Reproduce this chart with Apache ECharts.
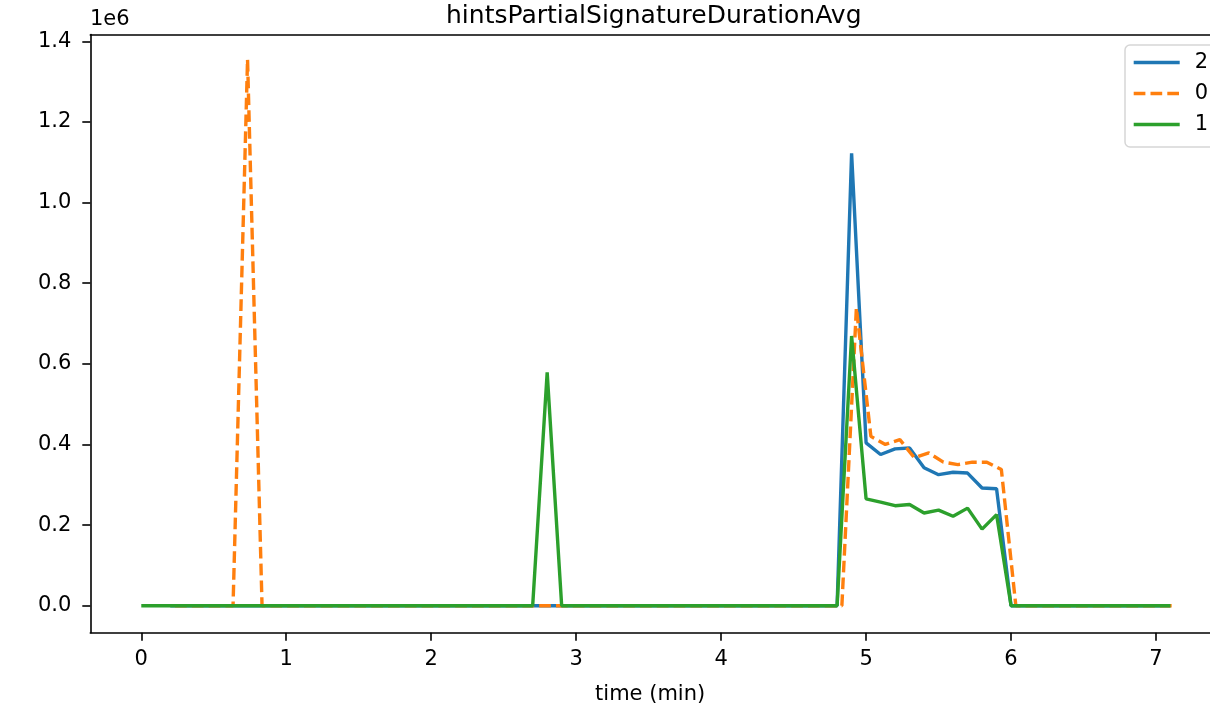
<!DOCTYPE html>
<html>
<head>
<meta charset="utf-8">
<script src="https://cdn.jsdelivr.net/npm/echarts@6/dist/echarts.min.js"></script>
<style>
html,body{margin:0;padding:0;background:#fff;}
#c{width:1210px;height:703px;}
</style>
</head>
<body>
<div id="c"></div>
<script>
// ---- data (time in minutes, value in raw units) ----
const times2 = [0.2,0.3,0.4,0.5,0.6,0.7,0.8,0.9,1.0,1.1,1.2,1.3,1.4,1.5,1.6,1.7,1.8,1.9,2.0,2.1,2.2,2.3,2.4,2.5,2.6,2.7,2.8,2.9,3.0,3.1,3.2,3.3,3.4,3.5,3.6,3.7,3.8,3.9,4.0,4.1,4.2,4.3,4.4,4.5,4.6,4.7,4.8,4.9,5.0,5.1,5.2,5.3,5.4,5.5,5.6,5.7,5.8,5.9,6.0,6.1,6.2,6.3,6.4,6.5,6.6,6.7,6.8,6.9,7.0,7.1];
const values2 = [0,0,0,0,0,0,0,0,0,0,0,0,0,0,0,0,0,0,0,0,0,0,0,0,0,0,0,0,0,0,0,0,0,0,0,0,0,0,0,0,0,0,0,0,0,0,0,1122000,404000,375000,389000,391000,342000,325000,331000,329000,292000,290000,0,0,0,0,0,0,0,0,0,0,0,0];

const times0 = [0.233,0.333,0.433,0.533,0.633,0.733,0.833,0.933,1.033,1.133,1.233,1.333,1.433,1.533,1.633,1.733,1.833,1.933,2.033,2.133,2.233,2.333,2.433,2.533,2.633,2.733,2.833,2.933,3.033,3.133,3.233,3.333,3.433,3.533,3.633,3.733,3.833,3.933,4.033,4.133,4.233,4.333,4.433,4.533,4.633,4.733,4.833,4.933,5.033,5.133,5.233,5.333,5.433,5.533,5.633,5.733,5.833,5.933,6.033,6.133,6.233,6.333,6.433,6.533,6.633,6.733,6.833,6.933,7.033,7.133];
const values0 = [0,0,0,0,0,1355000,0,0,0,0,0,0,0,0,0,0,0,0,0,0,0,0,0,0,0,0,0,0,0,0,0,0,0,0,0,0,0,0,0,0,0,0,0,0,0,0,0,739000,420000,400000,412000,367000,379000,356000,350000,356000,356000,338000,0,0,0,0,0,0,0,0,0,0,0,0];

const times1 = [0.0,0.1,0.2,0.3,0.4,0.5,0.6,0.7,0.8,0.9,1.0,1.1,1.2,1.3,1.4,1.5,1.6,1.7,1.8,1.9,2.0,2.1,2.2,2.3,2.4,2.5,2.6,2.7,2.8,2.9,3.0,3.1,3.2,3.3,3.4,3.5,3.6,3.7,3.8,3.9,4.0,4.1,4.2,4.3,4.4,4.5,4.6,4.7,4.8,4.9,5.0,5.1,5.2,5.3,5.4,5.5,5.6,5.7,5.8,5.9,6.0,6.1,6.2,6.3,6.4,6.5,6.6,6.7,6.8,6.9,7.0,7.1];
const values1 = [0,0,0,0,0,0,0,0,0,0,0,0,0,0,0,0,0,0,0,0,0,0,0,0,0,0,0,0,579000,0,0,0,0,0,0,0,0,0,0,0,0,0,0,0,0,0,0,0,0,669000,265000,257000,248000,251000,230000,237000,222000,242000,190000,226000,0,0,0,0,0,0,0,0,0,0,0,0];

const xTicks = [0,1,2,3,4,5,6,7];
const yTicks = [0,200000,400000,600000,800000,1000000,1200000,1400000];
const seriesNames = ['2','0','1'];

const pair = (t, v) => t.map((x, i) => [x, v[i]]);
const FONT = 'DejaVu Sans';
const XMIN = -0.3517, XMAX = 7.3724;
const LW = 3.4;

const chart = echarts.init(document.getElementById('c'), null, {renderer:'canvas'});
chart.setOption({
  animation:false,
  backgroundColor:'#ffffff',
  title:{
    text:'hintsPartialSignatureDurationAvg',
    left:441, top:-1,
    textStyle:{fontFamily:FONT,fontSize:25,fontWeight:'normal',color:'#000'}
  },
  graphic:[{
    type:'text', left:90, top:9,
    style:{text:'1e6', font:'21px "DejaVu Sans"', fill:'#000'}
  }],
  legend:{
    orient:'vertical',
    left:1125, top:45,
    padding:[7,60,12,7],
    itemWidth:46, itemHeight:21, itemGap:10,
    borderColor:'#d6d6d6', borderWidth:1.5, borderRadius:5,
    backgroundColor:'rgba(255,255,255,0.8)',
    itemStyle:{opacity:0},
    lineStyle:{width:LW},
    textStyle:{fontFamily:FONT,fontSize:21,color:'#000',padding:[0,0,0,10]},
    data:seriesNames.map(n=>({name:n}))
  },
  grid:{left:90.3, top:34.5, right:0, height:598.2, show:false, containLabel:false, outerBoundsMode:'none'},
  xAxis:[{
    type:'value', min:XMIN, max:XMAX, position:'bottom',
    name:'time (min)', nameLocation:'middle', nameGap:51,
    nameTextStyle:{fontFamily:FONT,fontSize:21,color:'#000'},
    axisLine:{show:true, onZero:false, lineStyle:{color:'#000',width:1.6}},
    axisTick:{show:true, length:8, lineStyle:{color:'#000',width:1.6}, customValues:xTicks},
    axisLabel:{fontFamily:FONT,fontSize:21,color:'#000',margin:16, customValues:xTicks, formatter:v=>String(v)},
    splitLine:{show:false}
  },{
    type:'value', min:XMIN, max:XMAX, position:'top',
    axisLine:{show:true, onZero:false, lineStyle:{color:'#000',width:1.6}},
    axisTick:{show:false}, axisLabel:{show:false}, splitLine:{show:false}
  }],
  yAxis:{
    type:'value', min:-67000, max:1416900,
    axisLine:{show:true, onZero:false, lineStyle:{color:'#000',width:1.6}},
    axisTick:{show:true, length:8, lineStyle:{color:'#000',width:1.6}, customValues:yTicks},
    axisLabel:{fontFamily:FONT,fontSize:21,color:'#000',margin:19, customValues:yTicks, formatter:v=>(v/1e6).toFixed(1)},
    splitLine:{show:false}
  },
  series:[
    {name:seriesNames[0], type:'line', data:pair(times2, values2), symbol:'none', showSymbol:false,
     lineStyle:{color:'#1f77b4', width:LW}, itemStyle:{color:'#1f77b4'}, z:2},
    {name:seriesNames[1], type:'line', data:pair(times0, values0), symbol:'none', showSymbol:false,
     lineStyle:{color:'#ff7f0e', width:LW, type:[11.7,5.1]}, itemStyle:{color:'#ff7f0e'}, z:3},
    {name:seriesNames[2], type:'line', data:pair(times1, values1), symbol:'none', showSymbol:false,
     lineStyle:{color:'#2ca02c', width:LW}, itemStyle:{color:'#2ca02c'}, z:4}
  ]
});
</script>
</body>
</html>
